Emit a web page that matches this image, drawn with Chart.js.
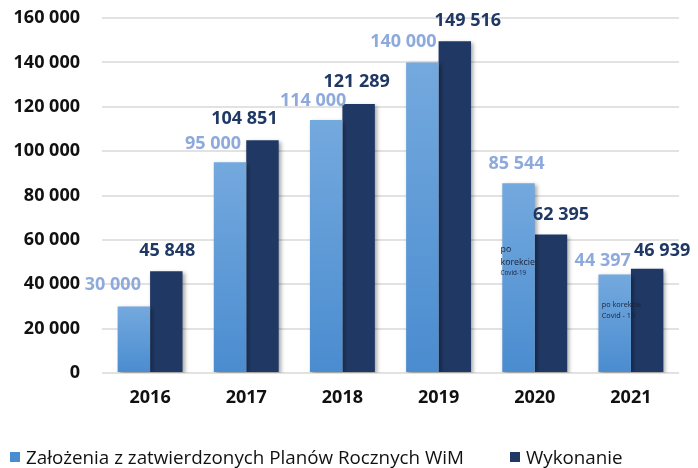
<!DOCTYPE html>
<html>
<head>
<meta charset="utf-8">
<script src="https://cdn.jsdelivr.net/npm/chart.js@4.4.1/dist/chart.umd.min.js"></script>
<style>
  html, body { margin: 0; padding: 0; background: #fff; }
  #wrap { position: relative; width: 698px; height: 468px; }
  #legend {
    position: absolute; left: 10px; top: 444px;
    display: flex; gap: 46px; align-items: center;
    font-family: "Open Sans", sans-serif; font-size: 18.8px; color: #111;
  }
  #legend span.box { display: inline-block; width: 10px; height: 10px; margin-right: 6px; vertical-align: middle; }
  #legend .item { display: flex; align-items: center; white-space: nowrap; }
</style>
</head>
<body>
<div id="wrap">
  <canvas id="chart" width="698" height="468"></canvas>
  <div id="legend"></div>
</div>
<script>
const years = ["2016", "2017", "2018", "2019", "2020", "2021"];
const planned = [30000, 95000, 114000, 140000, 85544, 44397];
const actual = [45848, 104851, 121289, 149516, 62395, 46939];
const seriesNames = ["Założenia z zatwierdzonych Planów Rocznych WiM", "Wykonanie"];
const yMax = 160000;
const yStep = 20000;

// where each value label sits relative to the top centre of its bar
const plannedShift = [[-21, -22], [-17, -18], [-13, -19], [-19, -21], [-2, -19], [-12, -14]];
const actualShift = [[1, -20], [-18, -21], [-2, -22], [13, -20], [10, -20], [15, -18]];

// small notes written inside some bars
const notes = [
  { index: 4, dx: -18, lines: [["po", 8.8, 66], ["korekcie", 8.8, 79], ["Covid-19", 6.3, 90]] },
  { index: 5, dx: -13, lines: [["po korekcie", 7.3, 30], ["Covid - 19", 7.3, 41]] },
];

const lightTop = "#74a9de";
const lightBottom = "#4a8cd0";
const dark = "#203864";
const lightLabel = "#8eaadc";

const fmt = (v) => String(v).replace(/\B(?=(\d{3})+(?!\d))/g, " ");

function lightGradient(ctx) {
  const chart = ctx.chart;
  if (ctx.type !== "data" || !chart.chartArea) return "#5b9bd5";
  const y = chart.scales.y;
  const top = y.getPixelForValue(planned[ctx.dataIndex]);
  const base = y.getPixelForValue(0);
  const g = chart.ctx.createLinearGradient(0, top, 0, base);
  g.addColorStop(0, lightTop);
  g.addColorStop(1, lightBottom);
  return g;
}

const barShadow = {
  id: "barShadow",
  beforeDatasetsDraw(chart) {
    const c = chart.ctx;
    c.save();
    c.shadowColor = "rgba(0,0,0,0.35)";
    c.shadowBlur = 4;
    c.shadowOffsetX = 2;
    c.shadowOffsetY = 2;
  },
  afterDatasetsDraw(chart) {
    chart.ctx.restore();
  },
};

const valueLabels = {
  id: "valueLabels",
  afterDraw(chart) {
    const c = chart.ctx;
    c.save();
    c.font = "bold 18px 'Open Sans'";
    c.textAlign = "center";
    c.textBaseline = "middle";
    const sets = [
      { data: planned, shift: plannedShift, color: lightLabel },
      { data: actual, shift: actualShift, color: dark },
    ];
    sets.forEach((s, di) => {
      const meta = chart.getDatasetMeta(di);
      meta.data.forEach((bar, i) => {
        c.fillStyle = s.color;
        c.fillText(fmt(s.data[i]), bar.x + s.shift[i][0], bar.y + s.shift[i][1]);
      });
    });

    c.textAlign = "left";
    c.fillStyle = "#1b2236";
    const meta = chart.getDatasetMeta(0);
    notes.forEach((n) => {
      const bar = meta.data[n.index];
      n.lines.forEach(([text, size, dy]) => {
        c.font = size + "px 'Open Sans'";
        c.fillText(text, bar.x + n.dx, bar.y + dy);
      });
    });
    c.restore();
  },
};

new Chart(document.getElementById("chart"), {
  type: "bar",
  data: {
    labels: years,
    datasets: [
      { label: seriesNames[0], data: planned, backgroundColor: lightGradient },
      { label: seriesNames[1], data: actual, backgroundColor: dark },
    ],
  },
  options: {
    responsive: false,
    animation: false,
    layout: { padding: { top: 18, right: 19, left: 0, bottom: 0 } },
    datasets: { bar: { categoryPercentage: 0.675, barPercentage: 1 } },
    scales: {
      x: {
        grid: { display: false, drawTicks: false },
        border: { display: false },
        ticks: {
          padding: 14,
          color: "#111",
          font: { family: "Open Sans", size: 18, weight: "bold" },
        },
        afterFit: (scale) => { scale.height = 95; },
      },
      y: {
        min: 0,
        max: yMax,
        grid: { color: "#e2e2e2", lineWidth: 2, drawTicks: false },
        border: { display: false },
        ticks: {
          stepSize: yStep,
          padding: 22,
          color: "#111",
          font: { family: "Open Sans", size: 18, weight: "bold" },
          callback: (v) => fmt(v),
        },
        afterFit: (scale) => {
          scale.width = 102;
          scale.paddingTop = 0;
          scale.paddingBottom = 0;
        },
      },
    },
    plugins: {
      legend: { display: false },
      tooltip: { enabled: false },
    },
  },
  plugins: [barShadow, valueLabels],
});

// legend under the chart
const legend = document.getElementById("legend");
[lightBottom, dark].forEach((color, i) => {
  const item = document.createElement("div");
  item.className = "item";
  const box = document.createElement("span");
  box.className = "box";
  box.style.background = color;
  item.appendChild(box);
  item.appendChild(document.createTextNode(seriesNames[i]));
  legend.appendChild(item);
});
</script>
</body>
</html>
